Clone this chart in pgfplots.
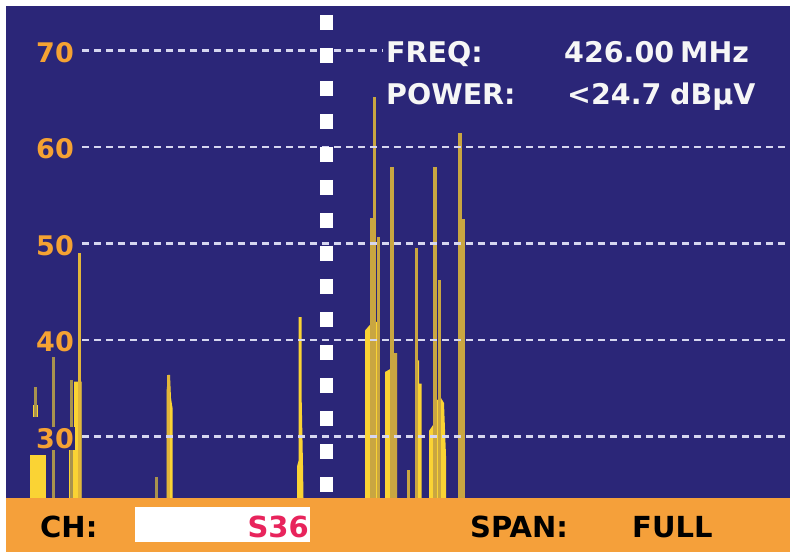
\documentclass[border=0pt]{standalone}
\usepackage{pgfplots}
\pgfplotsset{compat=1.18}
\usepackage{fontspec}
\setmainfont{DejaVu Sans}
\definecolor{bgblue}{HTML}{2B2678}
\definecolor{barorange}{HTML}{F5A03A}
\definecolor{ticko}{HTML}{F5A233}
\definecolor{ylw}{HTML}{FAD334}
\definecolor{gold}{HTML}{C9A641}
\definecolor{dimgold}{HTML}{A8924E}
\definecolor{brgold}{HTML}{E2B63A}
\definecolor{gridc}{HTML}{D6D6F0}
\definecolor{s36}{HTML}{E8245C}
\definecolor{txtw}{HTML}{F6F6F6}

\begin{document}
\begin{tikzpicture}[
  blk/.style={fill=ylw, draw=none},
  tl/.style={anchor=east, text=ticko, fill=bgblue, inner sep=1pt, font=\bfseries\fontsize{27}{27}\selectfont},
  it/.style={anchor=base west, text=txtw, inner sep=0pt, font=\bfseries\fontsize{28.5}{30}\selectfont},
  bt/.style={anchor=base west, text=black, inner sep=0pt, font=\bfseries\fontsize{29}{30}\selectfont},
]
\begin{axis}[
  width=790pt, height=552pt, scale only axis,
  xmin=0, xmax=790, ymin=18.052, ymax=75.254,
  hide axis, clip=true,
  every axis plot/.append style={mark=none},
]
% screen background
\addplot[fill=bgblue, draw=none] coordinates {(6,23.648)(6,74.632)(790,74.632)(790,23.648)};

% live trace (bright yellow)
\addplot[blk] coordinates {(30,23.648)(30,28.1)(46,28.1)(46,23.648)};
\addplot[blk] coordinates {(33,32.0)(33,33.3)(37.5,33.3)(37.5,32.0)};
\addplot[blk] coordinates {(69,23.648)(69,30.7)(74,30.7)(74,35.7)(81.5,35.7)(81.5,23.648)};
\addplot[blk] coordinates {(155,23.648)(155,25.8)(157,25.8)(157,23.648)};
\addplot[blk] coordinates {(166.5,23.648)(166.5,34.6)(168,36.4)(170,36.4)(171,34.0)(172.5,33.0)(172.5,23.648)};
\addplot[blk] coordinates {(297,23.648)(297,26.9)(298.5,27.5)(298.5,42.4)(301.5,42.4)(301.5,34.8)(303,27.0)(303.5,23.648)};
\addplot[blk] coordinates {(365,23.648)(365,41.0)(370,41.6)(372,41.9)(378,41.9)(378,23.648)};
\addplot[blk] coordinates {(385,23.648)(385,36.7)(390,37.0)(393,37.0)(393,38.65)(397,38.65)(397,23.648)};
\addplot[blk] coordinates {(416,23.648)(416,37.9)(419,37.9)(419,35.5)(421.5,35.5)(421.5,23.648)};
\addplot[blk] coordinates {(429,23.648)(429,30.6)(433,31.2)(437,31.2)(437,33.8)(441,34.0)(444,33.5)(446,28.0)(446,23.648)};

% peak lines
\addplot[ycomb, draw=dimgold, line width=3pt] coordinates {(53.5,38.26)(71.5,35.9)(156,25.8)};
\addplot[draw=dimgold, line width=3pt] coordinates {(35,32.0)(35,35.15)};
\addplot[ycomb, draw=brgold, line width=3pt] coordinates {(79.5,49.04)(168.5,36.4)};
\addplot[ycomb, draw=gold, line width=3.5pt] coordinates {
  (372,52.7)(374.5,65.2)(378.5,50.7)(392,57.95)(395.5,38.65)(408.5,26.55)
  (416.5,49.55)(435,57.95)(439.5,46.2)(460,61.5)(463.5,52.6)};

% grid
\addplot[gridc, line width=2.5pt, dash pattern=on 7pt off 5pt] coordinates {(82,70)(383,70)};
\addplot[gridc, line width=2.5pt, dash pattern=on 7pt off 5pt] coordinates {(82,60)(790,60)};
\addplot[gridc, line width=2.5pt, dash pattern=on 7pt off 5pt] coordinates {(82,50)(790,50)};
\addplot[gridc, line width=2.5pt, dash pattern=on 7pt off 5pt] coordinates {(82,40)(790,40)};
\addplot[gridc, line width=2.5pt, dash pattern=on 7pt off 5pt] coordinates {(82,30)(790,30)};

% marker
\addplot[white, line width=13pt, dash pattern=on 15pt off 18pt] coordinates {(326.5,73.70)(326.5,24.17)};

% level labels
\node[tl] at (75,69.8) {70};
\node[tl] at (75,59.8) {60};
\node[tl] at (75,49.8) {50};
\node[tl] at (75,39.8) {40};
\node[tl] at (75,29.8) {30};

% readout
\node[it] at (386,68.75) {FREQ:};
\node[it] at (564,68.75) {426.00};
\node[it] at (680,68.75) {MHz};
\node[it] at (386,64.45) {POWER:};
\node[it] at (567,64.45) {<24.7};
\node[it] at (670,64.45) {dBµV};

% bottom status bar
\addplot[fill=barorange, draw=none] coordinates {(6,18.052)(6,23.648)(790,23.648)(790,18.052)};
\addplot[fill=white, draw=none] coordinates {(135,19.088)(135,22.715)(310,22.715)(310,19.088)};
\node[bt] at (40,19.605) {CH:};
\node[bt, anchor=base east, text=s36] at (309,19.605) {S36};
\node[bt] at (470,19.605) {SPAN:};
\node[bt] at (632,19.605) {FULL};
\end{axis}
\path (current axis.south west) rectangle (current axis.north east);
\end{tikzpicture}
\end{document}
